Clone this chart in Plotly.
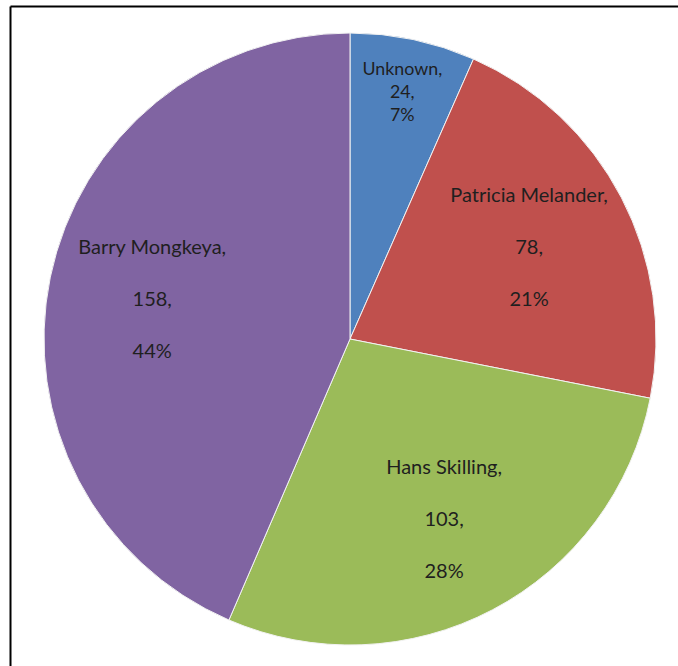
import plotly.graph_objects as go

labels = ["Unknown", "Patricia Melander", "Hans Skilling", "Barry Mongkeya"]
values = [24, 78, 103, 158]
colors = ["#4F81BD", "#C0504D", "#9BBB59", "#8064A2"]

W, H = 678, 666
cx, cy, r = 350, 339, 306
dom = dict(x=[(cx - r) / W, (cx + r) / W], y=[(H - cy - r) / H, (H - cy + r) / H])

# the narrow first slice gets tighter label lines so its text stays legible
templates = ["%{label},<br>%{value},<br>%{percent:.0%}"] + \
            ["%{label},<br><br>%{value},<br><br>%{percent:.0%}"] * (len(values) - 1)

fig = go.Figure()
# filled slices
fig.add_trace(go.Pie(
    labels=labels, values=values, sort=False, direction="clockwise", rotation=0,
    marker=dict(colors=colors, line=dict(color="#F2F2F2", width=1)),
    textinfo="none", hoverinfo="label+value+percent", showlegend=False, domain=dom,
))
# transparent ring carrying the data labels further out, as in the original
fig.add_trace(go.Pie(
    labels=labels, values=values, sort=False, direction="clockwise", rotation=0, hole=0.32,
    marker=dict(colors=["rgba(0,0,0,0)"] * len(values), line=dict(width=0)),
    texttemplate=templates,
    textposition="inside", insidetextorientation="horizontal",
    textfont=dict(family="Lato", size=20, color="#1F1F1F"),
    hoverinfo="skip", showlegend=False, domain=dom,
))

fig.update_layout(
    width=W, height=H,
    margin=dict(l=0, r=0, t=0, b=0),
    paper_bgcolor="white", plot_bgcolor="white", showlegend=False,
    shapes=[
        dict(type="line", xref="paper", yref="paper", x0=10.5 / W, x1=1, y0=1 - 6.5 / H, y1=1 - 6.5 / H,
             line=dict(color="black", width=2)),
        dict(type="line", xref="paper", yref="paper", x0=10.5 / W, x1=10.5 / W, y0=0, y1=1 - 6.5 / H,
             line=dict(color="black", width=2)),
    ],
)

fig.write_html("out.html", config={"displayModeBar": False},
               post_script="document.body.style.margin='0';")
